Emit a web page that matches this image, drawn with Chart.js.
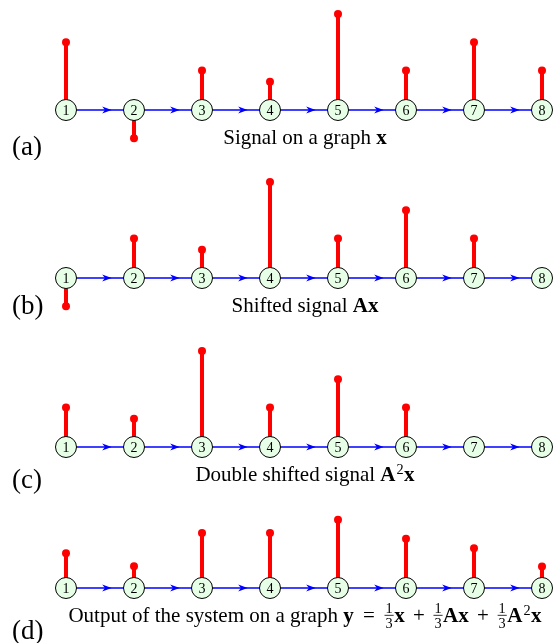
<!DOCTYPE html>
<html>
<head>
<meta charset="utf-8">
<script src="https://cdn.jsdelivr.net/npm/chart.js@4/dist/chart.umd.min.js"></script>
<style>
  html, body { margin: 0; padding: 0; background: #fff; }
  #wrap { position: relative; width: 555px; height: 643px; overflow: hidden; }
  #wrap canvas { position: absolute; left: 0; }
</style>
</head>
<body>
<div id="wrap"></div>
<script>
// Vertices of the directed path graph 1 -> 2 -> ... -> 8
const nodes = [1, 2, 3, 4, 5, 6, 7, 8];

// Graph signals, one value per vertex
const signalX          = [2.4, -1, 1.4, 1, 3.4, 1.4, 2.4, 1.4];
const shiftedAx        = [-1, 1.4, 1, 3.4, 1.4, 2.4, 1.4, 0];
const doubleShiftedA2x = [1.4, 1, 3.4, 1.4, 2.4, 1.4, 0, 0];
const outputY          = [1.23, 0.77, 1.95, 1.95, 2.42, 1.75, 1.41, 0.76];

const panelTags = ['(a)', '(b)', '(c)', '(d)'];

// Caption pieces: plain text, bold vectors, superscripts and 1/3 fractions
const third = { frac: ['1', '3'] };
const captionA = [{ t: 'Signal on a graph ' }, { t: 'x', b: true }];
const captionB = [{ t: 'Shifted signal ' }, { t: 'Ax', b: true }];
const captionC = [{ t: 'Double shifted signal ' }, { t: 'A', b: true }, { t: '2', sup: true }, { t: 'x', b: true }];
const captionD = [
  { t: 'Output of the system on a graph ' }, { t: 'y', b: true }, { t: ' = ', gap: 4 },
  third, { t: 'x', b: true }, { t: ' + ', gap: 3 },
  third, { t: 'Ax', b: true }, { t: ' + ', gap: 3 },
  third, { t: 'A', b: true }, { t: '2', sup: true }, { t: 'x', b: true }
];

const SERIF = '"Liberation Serif", "Times New Roman", serif';
const W = 555;
const UNIT = 28.2;          // pixels per signal unit
const FIRST_X = 66, STEP = 68;

const panels = [
  { values: signalX,          caption: captionA, top: 0,   h: 160, axis: 110, capBase: 143.5, capSize: 21, tagBase: 155 },
  { values: shiftedAx,        caption: captionB, top: 160, h: 170, axis: 278, capBase: 312,   capSize: 21, tagBase: 314 },
  { values: doubleShiftedA2x, caption: captionC, top: 330, h: 170, axis: 447, capBase: 481,   capSize: 21, tagBase: 488 },
  { values: outputY,          caption: captionD, top: 500, h: 143, axis: 588, capBase: 622,   capSize: 21, tagBase: 638.5 }
];

function runFont(r, size) {
  return (r.b ? 'bold ' : '') + size + 'px ' + SERIF;
}

function measureRuns(ctx, runs, size) {
  let w = 0;
  for (const r of runs) {
    if (r.frac) {
      ctx.font = (size * 0.68) + 'px ' + SERIF;
      r._w = Math.max(ctx.measureText(r.frac[0]).width, ctx.measureText(r.frac[1]).width) + 3;
    } else if (r.sup) {
      ctx.font = (size * 0.68) + 'px ' + SERIF;
      r._w = ctx.measureText(r.t).width + 1.5;
    } else {
      ctx.font = runFont(r, size);
      r._w = ctx.measureText(r.t).width + 2 * (r.gap || 0);
    }
    w += r._w;
  }
  return w;
}

function drawRuns(ctx, runs, cx, base, size) {
  const total = measureRuns(ctx, runs, size);
  let x = cx - total / 2;
  ctx.fillStyle = '#000';
  ctx.textBaseline = 'alphabetic';
  ctx.textAlign = 'left';
  for (const r of runs) {
    if (r.frac) {
      const fs = size * 0.68;
      ctx.font = fs + 'px ' + SERIF;
      const mid = x + r._w / 2;
      ctx.textAlign = 'center';
      ctx.fillText(r.frac[0], mid, base - size * 0.45);
      ctx.fillText(r.frac[1], mid, base + size * 0.28);
      ctx.textAlign = 'left';
      ctx.fillRect(x + 0.5, base - size * 0.34, r._w - 1, 0.8);
    } else if (r.sup) {
      ctx.font = (size * 0.68) + 'px ' + SERIF;
      ctx.fillText(r.t, x + 1, base - size * 0.33);
    } else {
      ctx.font = runFont(r, size);
      ctx.fillText(r.t, x + (r.gap || 0), base);
    }
    x += r._w;
  }
}

// Arrowheads on the edges, vertex numbers, caption and panel tag
const graphDecor = {
  id: 'graphDecor',
  afterDatasetsDraw(chart, args, opts) {
    const { ctx } = chart;
    const xs = chart.scales.x, ys = chart.scales.y;
    const y0 = ys.getPixelForValue(0);
    ctx.save();
    // stealth arrowheads on each edge i -> i+1
    ctx.fillStyle = '#0000ff';
    for (let i = 0; i < nodes.length - 1; i++) {
      const tx = xs.getPixelForValue(nodes[i] + 0.672);
      ctx.beginPath();
      ctx.moveTo(tx, y0);
      ctx.lineTo(tx - 9.5, y0 - 3.6);
      ctx.lineTo(tx - 6.8, y0);
      ctx.lineTo(tx - 9.5, y0 + 3.6);
      ctx.closePath();
      ctx.fill();
    }
    // vertex numbers
    ctx.fillStyle = '#000';
    ctx.font = '14px ' + SERIF;
    ctx.textAlign = 'center';
    ctx.textBaseline = 'alphabetic';
    for (const n of nodes) {
      ctx.fillText(String(n), xs.getPixelForValue(n), y0 + 5.2);
    }
    ctx.restore();
  },
  afterDraw(chart, args, opts) {
    const { ctx } = chart;
    const p = opts.panel;
    ctx.save();
    drawRuns(ctx, p.caption, 305, p.capBase - p.top, p.capSize);
    ctx.font = '27px ' + SERIF;
    ctx.textAlign = 'left';
    ctx.textBaseline = 'alphabetic';
    ctx.fillStyle = '#000';
    ctx.fillText(opts.tag, 12, p.tagBase - p.top);
    ctx.restore();
  }
};

const wrap = document.getElementById('wrap');
const xMin = 1 - FIRST_X / STEP;
const xMax = 1 + (W - FIRST_X) / STEP;

panels.forEach((p, k) => {
  const cv = document.createElement('canvas');
  cv.width = W;
  cv.height = p.h;
  cv.style.top = p.top + 'px';
  cv.style.width = W + 'px';
  cv.style.height = p.h + 'px';
  wrap.appendChild(cv);

  const stems = [];
  const tips = [];
  nodes.forEach((n, i) => {
    const v = p.values[i];
    if (v !== 0) {
      stems.push({ x: n, y: 0 }, { x: n, y: v }, { x: n, y: null });
      tips.push({ x: n, y: v });
    }
  });

  new Chart(cv, {
    type: 'line',
    data: {
      datasets: [
        { // vertices
          type: 'scatter', order: 0, clip: false,
          data: nodes.map(n => ({ x: n, y: 0 })),
          pointRadius: 10.5, pointBackgroundColor: '#e6ffe6',
          pointBorderColor: '#000', pointBorderWidth: 1, showLine: false
        },
        { // stem tips
          type: 'scatter', order: 1, clip: false,
          data: tips,
          pointRadius: 4, pointBackgroundColor: '#ff0000',
          pointBorderWidth: 0, showLine: false
        },
        { // stems
          type: 'line', order: 2, clip: false,
          data: stems, spanGaps: false,
          borderColor: '#ff0000', borderWidth: 4, borderCapStyle: 'butt',
          pointRadius: 0, tension: 0, fill: false
        },
        { // directed edges
          type: 'line', order: 3, clip: false,
          data: nodes.map(n => ({ x: n, y: 0 })),
          borderColor: '#0000ff', borderWidth: 1.6,
          pointRadius: 0, tension: 0, fill: false
        }
      ]
    },
    options: {
      responsive: false,
      animation: false,
      devicePixelRatio: 1,
      events: [],
      layout: { padding: 0, autoPadding: false },
      plugins: {
        legend: { display: false },
        tooltip: { enabled: false },
        graphDecor: { panel: p, tag: panelTags[k] }
      },
      scales: {
        x: { type: 'linear', display: false, min: xMin, max: xMax },
        y: { type: 'linear', display: false,
             min: -(p.top + p.h - p.axis) / UNIT, max: (p.axis - p.top) / UNIT }
      }
    },
    plugins: [graphDecor]
  });
});
</script>
</body>
</html>
